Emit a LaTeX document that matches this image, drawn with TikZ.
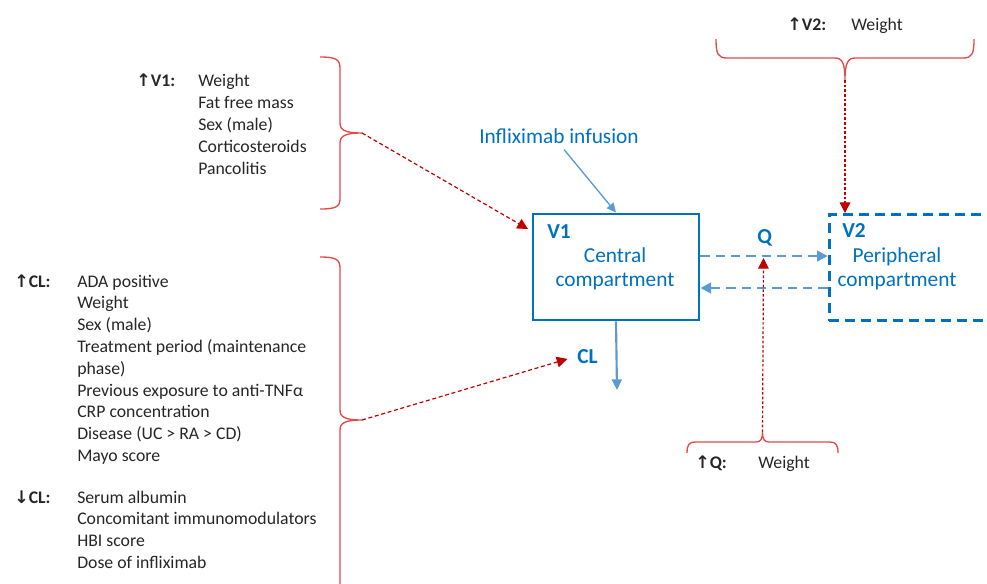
\documentclass[tikz,border=0pt]{standalone}
\usepackage{fontspec}
\setmainfont{Carlito}
\newfontfamily\arrowfont{DejaVu Sans}
\usetikzlibrary{arrows.meta}
\definecolor{boxblue}{RGB}{0,112,192}
\definecolor{lineblue}{RGB}{91,155,213}
\definecolor{bracered}{RGB}{228,72,72}
\definecolor{arrowred}{RGB}{192,0,0}
\definecolor{txtgray}{RGB}{38,38,38}
\newcommand{\upar}{{\arrowfont\fontsize{13}{15}\selectfont\bfseries ↑}}
\newcommand{\dnar}{{\arrowfont\fontsize{13}{15}\selectfont\bfseries ↓}}
\tikzset{
  txt/.style={inner sep=0pt, anchor=base west, text=txtgray, font=\fontsize{13.3}{16}\selectfont},
  lbl/.style={inner sep=0pt, anchor=base west, text=txtgray, font=\fontsize{13.3}{16}\selectfont\bfseries},
  bluetxt/.style={inner sep=0pt, text=boxblue, font=\fontsize{16}{19.5}\selectfont},
  bluebold/.style={inner sep=0pt, anchor=base west, text=boxblue, font=\fontsize{16}{19.5}\selectfont\bfseries},
  brc/.style={draw=bracered, line width=1pt, line join=round},
  redarr/.style={draw=arrowred, line width=0.9pt, -{Triangle[length=8pt,width=8pt]}},
  reddash/.style={redarr, dash pattern=on 3pt off 2pt},
  reddot/.style={redarr, dash pattern=on 2pt off 1.5pt},
  solidbox/.style={draw=boxblue, line width=2.2pt, minimum width=124.5pt, minimum height=79.5pt, inner sep=0pt},
  dashbox/.style={draw=boxblue, line width=2.2pt, dash pattern=on 7.5pt off 4.5pt, minimum width=173pt, minimum height=79.5pt, inner sep=0pt},
  thinblue/.style={draw=lineblue, line width=1pt, -{Triangle[length=7pt,width=6.5pt]}},
  midblue/.style={draw=lineblue, line width=1.6pt, -{Triangle[length=8pt,width=7.5pt]}},
  dashblue/.style={draw=lineblue, line width=1.9pt, dash pattern=on 7pt off 4.5pt, -{Triangle[length=8pt,width=8pt]}}
}
\begin{document}
\begin{tikzpicture}[x=0.75pt,y=-0.75pt]
\useasboundingbox (0,0) rectangle (987,583);
\clip (0,0) rectangle (987,583);

% ---------- left lists ----------
\node[lbl] (v1lab) at (136,86) {\upar V1:};
\foreach \t [count=\i from 0] in {Weight,Fat free mass,Sex (male),Corticosteroids,Pancolitis}
  \node[txt] (v1item\i) at (198,86+22*\i) {\t};

\node[lbl] (cluplab) at (14,287) {\upar CL:};
\foreach \t [count=\i from 0] in {ADA positive,Weight,Sex (male),Treatment period (maintenance,phase),Previous exposure to anti-TNFα,CRP concentration,Disease (UC > RA > CD),Mayo score}
  \node[txt] (clup\i) at (77,287+21.8*\i) {\t};

\node[lbl] (cldnlab) at (14,503) {\dnar CL:};
\foreach \t [count=\i from 0] in {Serum albumin,Concomitant immunomodulators,HBI score,Dose of infliximab}
  \node[txt] (cldn\i) at (77,503+21.8*\i) {\t};

% ---------- V2 and Q labels ----------
\node[lbl] (v2lab) at (787,30) {\upar V2:};
\node[txt] (v2w) at (851,30) {Weight};
\node[lbl] (qlab) at (695,468) {\upar Q:};
\node[txt] (qw) at (758,468) {Weight};

% ---------- braces ----------
\draw[brc] (320,57) .. controls (335,57) and (340,59) .. (340,68) -- (340,123)
  .. controls (340,130) and (345,133) .. (362,133)
  .. controls (345,133) and (340,136) .. (340,143) -- (340,199)
  .. controls (340,207) and (335,209) .. (320,209);
\coordinate (v1tip) at (362,133);
\draw[brc] (320,257) .. controls (335,257) and (340,259) .. (340,268) -- (340,410)
  .. controls (340,417) and (345,420) .. (362,420)
  .. controls (345,420) and (340,423) .. (340,430) -- (340,600);
\coordinate (cltip) at (362,420);
\draw[brc] (716,39) .. controls (716,54) and (718,58) .. (727,58) -- (835,58)
  .. controls (842,58) and (845,63) .. (845,80)
  .. controls (845,63) and (848,58) .. (855,58) -- (963,58)
  .. controls (972,58) and (974,54) .. (974,39);
\coordinate (v2tip) at (845,80);
\draw[brc] (687,453) .. controls (687,445) and (689,442) .. (695,442) -- (756,442)
  .. controls (760,442) and (762.5,440) .. (762.5,432)
  .. controls (762.5,440) and (765,442) .. (769,442) -- (830,442)
  .. controls (836,442) and (838,445) .. (838,453);
\coordinate (qtip) at (762.5,432);

% ---------- compartments ----------
\node[solidbox] (v1box) at (616,267) {};
\node[bluebold] (v1name) at (547,238) {V1};
\node[bluetxt, anchor=base] (v1t1) at (615,262) {Central};
\node[bluetxt, anchor=base] (v1t2) at (615,286) {compartment};

\node[dashbox] (v2box) at (944.5,267.5) {};
\node[bluebold] (v2name) at (842,237) {V2};
\node[bluetxt, anchor=base] (v2t1) at (897,262) {Peripheral};
\node[bluetxt, anchor=base] (v2t2) at (897,286) {compartment};

\node[bluetxt, anchor=base west] (infl) at (479,143) {Infliximab infusion};
\node[bluebold] (q) at (757,243) {Q};
\node[bluebold] (cl) at (577,363) {CL};

% ---------- blue connectors ----------
\draw[thinblue, shorten <=6pt] (infl.south) -- (v1box.north);
\coordinate (clout) at (617,390);
\draw[midblue] (v1box.south) -- (clout);
\coordinate (toprow) at (760,256);
\coordinate (botrow) at (760,288);
\draw[dashblue] (v1box.east |- toprow) -- (v2box.west |- toprow);
\draw[dashblue] (v2box.west |- botrow) -- (v1box.east |- botrow);

% ---------- red connectors ----------
\coordinate (v1in) at (528,229);
\draw[reddash] (v1tip) -- (v1in);
\draw[reddash, shorten >=7.5pt] (cltip) -- (cl.west);
\draw[reddot] (v2tip) -- (v2tip |- v2box.north);
\coordinate (qin) at (763.5,258);
\draw[reddot] (qtip) -- (qin);
\end{tikzpicture}
\end{document}
